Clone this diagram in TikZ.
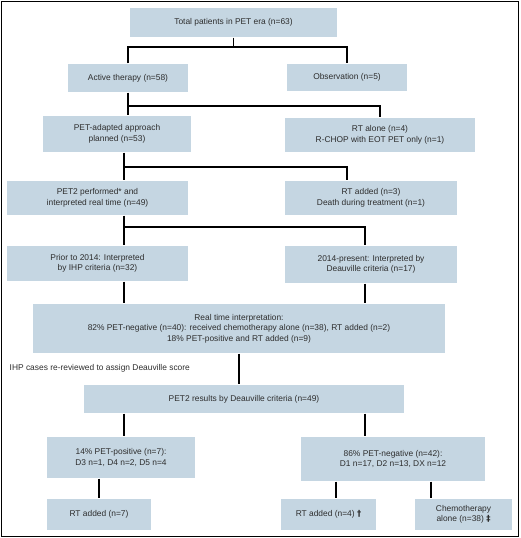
\documentclass[tikz,border=0pt]{standalone}
\usepackage{fontspec}
\setmainfont{Liberation Sans}
\newfontfamily\symfont{DejaVu Sans}
\definecolor{boxblue}{RGB}{197,214,226}
\definecolor{txtgray}{RGB}{45,45,45}
\begin{document}
\begin{tikzpicture}[x=1pt,y=-1pt,line width=1.4pt,
  box/.style={fill=boxblue,inner sep=0pt,align=center,text=txtgray,font=\fontsize{8.4}{10.4}\selectfont}]
\useasboundingbox (0,0) rectangle (520,538);
\draw[line width=1pt] (1,1) rectangle (518.5,536);
\coordinate (bus1) at (0,47);
\coordinate (bus2) at (0,106);
\coordinate (bus3) at (0,167);
\coordinate (bus4) at (0,227);
\coordinate (spine) at (124,0);
\coordinate (rspine) at (365,0);
\coordinate (nl) at (336,0);
\coordinate (nr) at (431,0);
\node[box,minimum width=207,minimum height=29] (total) at (233.5,22.5) {Total patients in PET era (n=63)};
\node[box,minimum width=120,minimum height=28] (active) at (128,78) {Active therapy (n=58)};
\node[box,minimum width=120,minimum height=27] (obs) at (347,77.5) {Observation (n=5)};
\node[box,minimum width=148,minimum height=36] (adapt) at (117,134) {PET-adapted approach\\planned (n=53)};
\node[box,minimum width=190,minimum height=34] (rtalone) at (380,135) {RT alone (n=4)\\R-CHOP with EOT PET only (n=1)};
\node[box,minimum width=181,minimum height=34] (pet2) at (97.5,198) {PET2 performed* and\\interpreted real time (n=49)};
\node[box,minimum width=172,minimum height=34] (rtadd) at (371,198) {RT added (n=3)\\Death during treatment (n=1)};
\node[box,minimum width=181,minimum height=35] (prior) at (97.5,263.5) {Prior to 2014: Interpreted\\by IHP criteria (n=32)};
\node[box,minimum width=172,minimum height=37] (y2014) at (371,264.5) {2014-present: Interpreted by\\Deauville criteria (n=17)};
\node[box,minimum width=412,minimum height=49] (realtime) at (239,328.5) {Real time interpretation:\\82\% PET-negative (n=40): received chemotherapy alone (n=38), RT added (n=2)\\18\% PET-positive and RT added (n=9)};
\node[anchor=west,text=txtgray,font=\fontsize{8.4}{10.4}\selectfont,inner sep=0pt] (note) at (9,368) {IHP cases re-reviewed to assign Deauville score};
\node[box,minimum width=320,minimum height=28] (results) at (244,399) {PET2 results by Deauville criteria (n=49)};
\node[box,minimum width=148,minimum height=41] (pos) at (121,457.5) {14\% PET-positive (n=7):\\D3 n=1, D4 n=2, D5 n=4};
\node[box,minimum width=184,minimum height=44] (neg) at (393,459) {86\% PET-negative (n=42):\\D1 n=17, D2 n=13, DX n=12};
\node[box,minimum width=104,minimum height=31] (rt7) at (99,514.5) {RT added (n=7)};
\node[box,minimum width=95,minimum height=31] (rt4) at (328.5,514.5) {RT added (n=4) {\symfont\bfseries †}};
\node[box,minimum width=97,minimum height=31] (chemo) at (463.5,514.5) {Chemotherapy\\alone (n=38) {\symfont\bfseries ‡}};
\draw (total.south) -- (total.south |- bus1);
\draw (active.north) |- (bus1 -| obs.north) -- (obs.north);
\draw (active.south) -- (active.south |- adapt.north);
\draw (active.south |- bus2) -| (rtalone.north);
\draw (adapt.south -| spine) -- (pet2.north -| spine);
\draw (spine |- bus3) -| (rtadd.north -| obs);
\draw (pet2.south -| spine) -- (prior.north -| spine);
\draw (spine |- bus4) -| (y2014.north -| rspine);
\draw (prior.south -| spine) -- (realtime.north -| spine);
\draw (y2014.south -| rspine) -- (realtime.north -| rspine);
\draw (realtime.south) -- (realtime.south |- results.north);
\draw (results.south -| spine) -- (pos.north -| spine);
\draw (results.south -| rspine) -- (neg.north -| rspine);
\draw (pos.south -| rt7) -- (rt7.north);
\draw (neg.south -| nl) -- (rt4.north -| nl);
\draw (neg.south -| nr) -- (chemo.north -| nr);
\end{tikzpicture}
\end{document}
